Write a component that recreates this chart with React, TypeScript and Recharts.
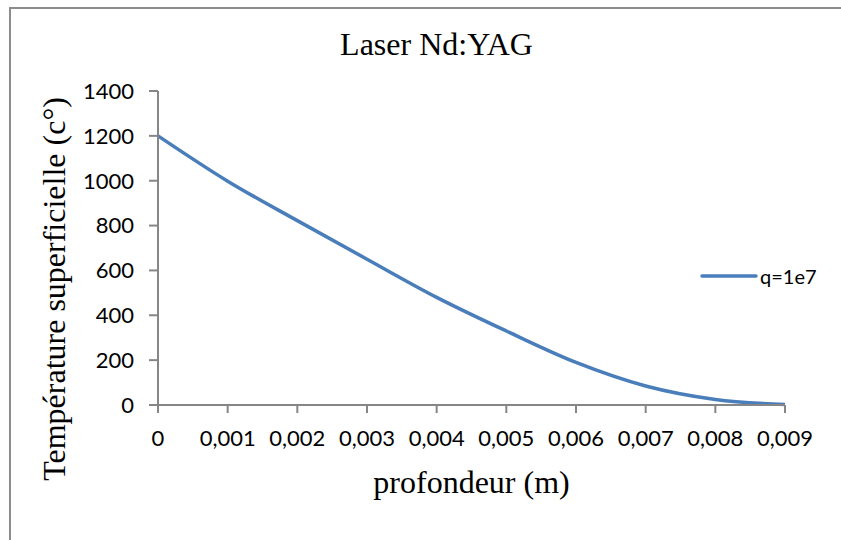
import React from 'react';
import { LineChart, Line, XAxis, YAxis, Legend } from 'recharts';

const depths = [0, 0.001, 0.002, 0.003, 0.004, 0.005, 0.006, 0.007, 0.008, 0.009];
const temperatures = [1200, 998, 822, 650, 480, 330, 190, 85, 25, 2];
const xTicks = [0, 0.001, 0.002, 0.003, 0.004, 0.005, 0.006, 0.007, 0.008, 0.009];
const yTicks = [0, 200, 400, 600, 800, 1000, 1200, 1400];
const seriesName = 'q=1e7';
const titleText = 'Laser Nd:YAG';
const xTitle = 'profondeur (m)';
const yTitle = 'Température superficielle (c°)';

const data = depths.map((d, i) => ({ x: d, y: temperatures[i] }));

const axisColor = '#868686';
const lineColor = '#4A7EBB';
const serif = '"Liberation Serif", "Times New Roman", serif';
const sans = 'Lato, "Open Sans", sans-serif';

const fmtX = (v: number) => (v === 0 ? '0' : v.toFixed(3).replace('.', ','));

const LegendContent = () => (
  <div style={{ display: 'flex', alignItems: 'center', fontFamily: sans, fontSize: 20, lineHeight: '22px', height: 22, color: '#000' }}>
    <svg width={58} height={10} style={{ display: 'block' }}>
      <line x1={2} y1={5} x2={56} y2={5} stroke={lineColor} strokeWidth={3.5} strokeLinecap="round" />
    </svg>
    <span style={{ marginLeft: 2 }}>{seriesName}</span>
  </div>
);

export default function App() {
  return (
    <div style={{ position: 'absolute', left: 0, top: 0, width: 841, height: 540, background: '#fff', overflow: 'hidden' }}>
      <div
        style={{
          position: 'absolute',
          left: 9,
          top: 7,
          width: 900,
          height: 600,
          borderTop: '2px solid #8c8c8c',
          borderLeft: '2px solid #8c8c8c',
        }}
      />
      <div
        style={{
          position: 'absolute',
          left: 0,
          width: 873,
          top: 24,
          textAlign: 'center',
          fontFamily: serif,
          fontSize: 32,
          color: '#000',
          lineHeight: '40px',
        }}
      >
        {titleText}
      </div>
      <div style={{ position: 'absolute', left: 0, top: 0 }}>
        <LineChart width={841} height={540} data={data} margin={{ top: 91, right: 56, bottom: 53, left: 0 }}>
          <XAxis
            dataKey="x"
            type="number"
            domain={[0, 0.009]}
            ticks={xTicks}
            tickFormatter={fmtX}
            interval={0}
            height={60}
            tickSize={8}
            tickMargin={17}
            axisLine={{ stroke: axisColor, strokeWidth: 2 }}
            tickLine={{ stroke: axisColor, strokeWidth: 2 }}
            tick={{ fill: '#000', fontSize: 22, fontFamily: sans }}
            label={{
              content: (props: any) => {
                const vb = props.viewBox || { x: 158, y: 405, width: 627, height: 60 };
                return (
                  <text
                    x={vb.x + vb.width / 2}
                    y={vb.y + 88}
                    textAnchor="middle"
                    fontFamily={serif}
                    fontSize={32}
                    fill="#000"
                  >
                    {xTitle}
                  </text>
                );
              },
            }}
          />
          <YAxis
            type="number"
            domain={[0, 1400]}
            ticks={yTicks}
            interval={0}
            width={158}
            tickSize={9}
            tickMargin={15}
            axisLine={{ stroke: axisColor, strokeWidth: 2 }}
            tickLine={{ stroke: axisColor, strokeWidth: 2 }}
            tick={{ fill: '#000', fontSize: 22, fontFamily: sans }}
            label={{
              content: () => (
                <text
                  x={65}
                  y={289}
                  transform="rotate(-90 65 289)"
                  textAnchor="middle"
                  fontFamily={serif}
                  fontSize={32}
                  fill="#000"
                >
                  {yTitle}
                </text>
              ),
            }}
          />
          <Legend
            content={LegendContent}
            wrapperStyle={{ position: 'absolute', left: 700, top: 265, width: 130, height: 22 }}
          />
          <Line
            type="monotone"
            dataKey="y"
            name={seriesName}
            stroke={lineColor}
            strokeWidth={3.5}
            dot={false}
            isAnimationActive={false}
          />
        </LineChart>
      </div>
    </div>
  );
}
